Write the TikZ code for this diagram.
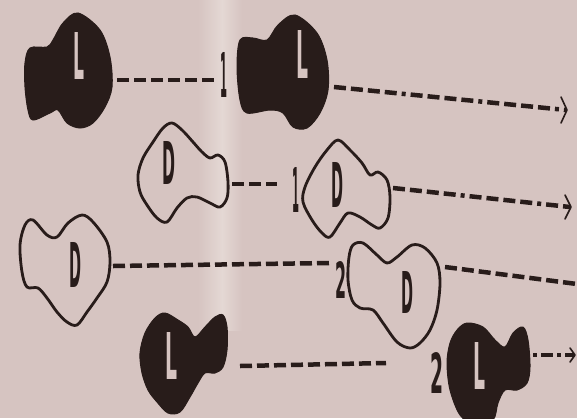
\documentclass[tikz,border=0pt]{standalone}
\usepackage{fontspec}
\setmainfont{DejaVu Sans}
\definecolor{paper}{RGB}{214,196,193}
\definecolor{paperlight}{RGB}{228,216,212}
\definecolor{ink}{RGB}{40,28,26}
\newcommand{\glyphbox}[3]{\resizebox{#1}{#2}{\bfseries #3}}
\tikzset{
  blobfill/.style={fill=ink, draw=ink, line width=1pt},
  bloboutline/.style={draw=ink, line width=2.8pt, line join=round},
  whiteletter/.style={text=paper, inner sep=0pt},
  inkletter/.style={text=ink, inner sep=0pt},
  trail/.style={draw=ink, line width=4.5pt, dash pattern=on 12pt off 5pt},
  trailmix/.style={draw=ink, line width=4.5pt, dash pattern=on 12pt off 5pt on 12pt off 5pt on 12pt off 5pt on 12pt off 5pt on 4pt off 5pt},
  chev/.style={draw=ink, line width=1.6pt, line cap=round, line join=round}
}
\begin{document}
\begin{tikzpicture}[x=1pt,y=-1pt]
\useasboundingbox (0,0) rectangle (577,418);
\clip (0,0) rectangle (577,418);
\fill[paper] (0,0) rectangle (577,418);
\shade[left color=paper, right color=paperlight] (198,0) rectangle (222,330);
\shade[left color=paperlight, right color=paper] (222,0) rectangle (242,330);

% ---- filled L figures ----
\fill[blobfill] plot[smooth cycle, tension=0.55] coordinates {(78,13) (100,30) (110,57) (112,87) (105,107) (93,123) (80,128) (67,123) (58,110) (50,113) (33,120) (28,110) (25,87) (25,63) (30,48) (47,47) (53,40) (63,23)};
\fill[blobfill] plot[smooth cycle, tension=0.55] coordinates {(295,15) (317,33) (327,60) (328,90) (320,113) (307,128) (293,127) (283,113) (270,110) (247,113) (240,100) (237,67) (240,40) (253,38) (267,40) (278,25)};
\fill[blobfill] plot[smooth cycle, tension=0.55] coordinates {(165,313) (178,320) (188,327) (195,337) (205,327) (215,317) (223,315) (227,327) (227,350) (223,367) (215,373) (205,373) (198,383) (190,397) (180,412) (168,413) (157,402) (148,390) (142,373) (140,353) (145,333) (155,318)};
\fill[blobfill] plot[smooth cycle, tension=0.55] coordinates {(467,323) (483,327) (495,340) (505,347) (513,333) (523,327) (528,340) (530,367) (527,383) (517,390) (505,390) (498,403) (493,420) (475,425) (460,415) (450,390) (447,363) (450,343) (457,330)};

% ---- outlined D figures ----
\draw[bloboutline] plot[smooth cycle, tension=0.55] coordinates {(172,123) (182,130) (193,142) (202,152) (210,158) (218,155) (225,162) (228,182) (227,198) (220,207) (210,203) (197,197) (187,198) (177,208) (167,222) (157,218) (147,205) (140,192) (138,175) (143,158) (153,142) (163,128)};
\draw[bloboutline] plot[smooth cycle, tension=0.55] coordinates {(25,225) (33,220) (47,235) (57,237) (68,223) (82,215) (93,222) (107,242) (110,262) (107,282) (97,298) (87,312) (77,325) (67,322) (57,312) (47,298) (38,288) (27,287) (22,272) (20,245)};
\draw[bloboutline] plot[smooth cycle, tension=0.55] coordinates {(338,140) (350,150) (362,163) (370,175) (378,172) (387,180) (390,197) (388,218) (380,228) (372,225) (360,217) (348,213) (340,223) (330,237) (322,233) (312,220) (303,202) (305,187) (315,167) (327,150)};
\draw[bloboutline] plot[smooth cycle, tension=0.55] coordinates {(353,245) (363,243) (377,255) (387,263) (397,257) (412,245) (425,248) (437,263) (440,283) (437,310) (430,330) (420,343) (410,348) (397,342) (383,323) (373,310) (360,308) (352,300) (348,280) (349,257)};

% ---- letters ----
\node[whiteletter] (l1) at (79,56) {\glyphbox{11pt}{47pt}{L}};
\node[whiteletter] (l2) at (302,54) {\glyphbox{12pt}{48pt}{L}};
\node[whiteletter] (l3) at (171,356) {\glyphbox{12pt}{47pt}{L}};
\node[whiteletter] (l4) at (479,366) {\glyphbox{12pt}{47pt}{L}};
\node[inkletter] (d1) at (169,163) {\glyphbox{13pt}{43pt}{D}};
\node[inkletter] (d2) at (75.5,264.5) {\glyphbox{12pt}{45pt}{D}};
\node[inkletter] (d3) at (337,184.5) {\glyphbox{12pt}{45pt}{D}};
\node[inkletter] (d4) at (407,292) {\glyphbox{12pt}{42pt}{D}};

% ---- numbers ----
\node[inkletter] (n1a) at (224,74.5) {\glyphbox{7pt}{45pt}{1}};
\node[inkletter] (n1b) at (295.5,189.5) {\glyphbox{7pt}{45pt}{1}};
\node[inkletter] (n2a) at (341,280) {\glyphbox{11pt}{37pt}{2}};
\node[inkletter] (n2b) at (436.5,372.5) {\glyphbox{13pt}{41pt}{2}};

% ---- trail end points ----
\coordinate (a1) at (117,80);   \coordinate (a2) at (218,80);
\coordinate (b1) at (334,87);   \coordinate (b2) at (566,110);
\coordinate (c1) at (232,184);  \coordinate (c2) at (277,184);
\coordinate (e1) at (393,188);  \coordinate (e2) at (570,207);
\coordinate (f1) at (113,266);  \coordinate (f2) at (329,263);
\coordinate (g1) at (445,267);  \coordinate (g2) at (577,284);
\coordinate (h1) at (240,366);  \coordinate (h2) at (386,363);
\coordinate (k1) at (533,355);  \coordinate (k2) at (574,355);

\draw[trail] (a1) -- (a2);
\draw[trailmix] (b1) -- (b2);
\draw[trail] (c1) -- (c2);
\draw[trailmix] (e1) -- (e2);
\draw[trail] (f1) -- (f2);
\draw[trail] (g1) -- (g2);
\draw[trail] (h1) -- (h2);
\draw[trail, dash pattern=on 4pt off 4pt on 12pt off 4pt] (k1) -- (k2);

% ---- chevron arrow heads ----
\draw[chev] ([shift={(-5pt,-13pt)}]b2) -- ([shift={(1pt,0pt)}]b2) -- ([shift={(-5pt,13pt)}]b2);
\draw[chev] ([shift={(-5pt,-12pt)}]e2) -- ([shift={(1pt,0pt)}]e2) -- ([shift={(-5pt,12pt)}]e2);
\draw[chev] ([shift={(-4pt,-7pt)}]k2) -- ([shift={(1pt,0pt)}]k2) -- ([shift={(-4pt,7pt)}]k2);
\end{tikzpicture}
\end{document}
